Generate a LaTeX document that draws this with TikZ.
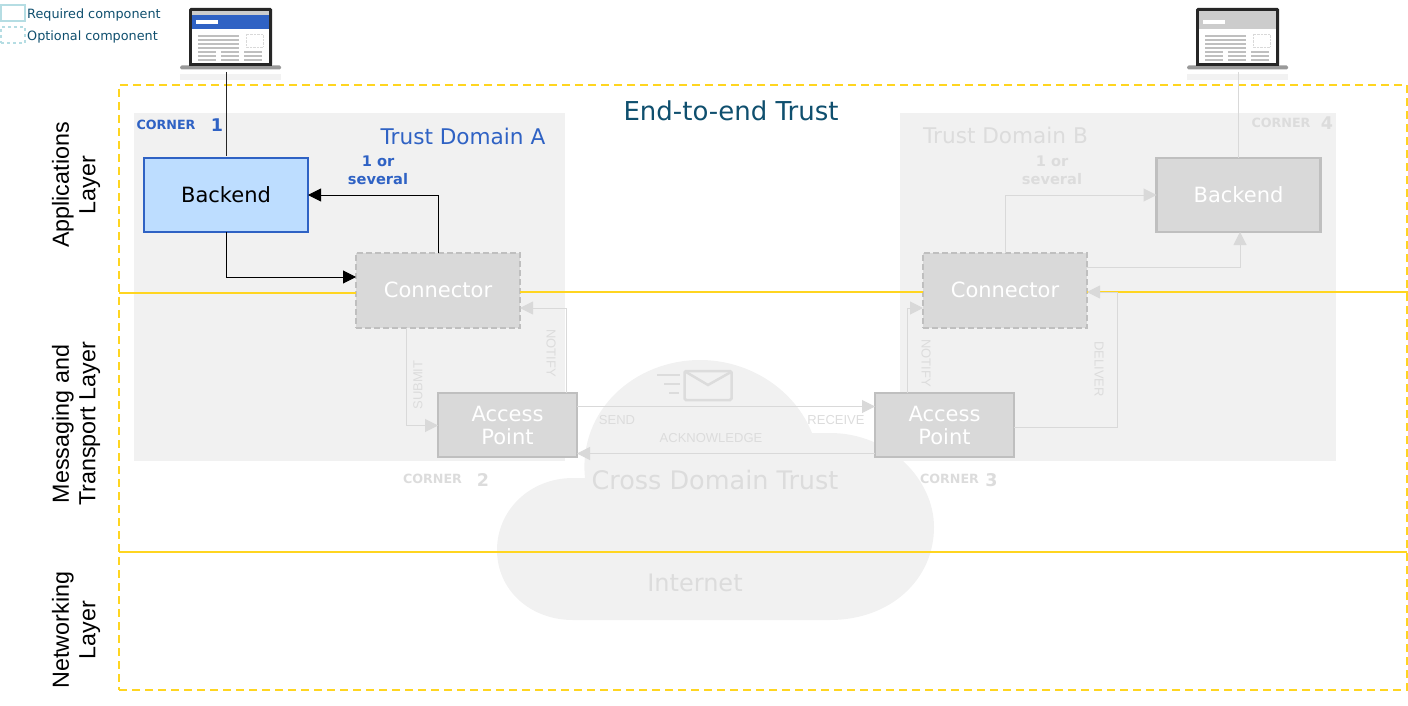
\documentclass[tikz,border=0pt]{standalone}
\usepackage{fontspec}
\setmainfont{DejaVu Sans}
\newfontfamily\arialfont{Liberation Sans}
\usetikzlibrary{arrows.meta}
\definecolor{trustyellow}{HTML}{FFD520}
\definecolor{domaingrey}{HTML}{F1F1F1}
\definecolor{boxgrey}{HTML}{D9D9D9}
\definecolor{edgegrey}{HTML}{BFBFBF}
\definecolor{fadegrey}{HTML}{DCDCDC}
\definecolor{cornerblue}{HTML}{2F62C4}
\definecolor{backendblue}{HTML}{BDDDFF}
\definecolor{tealtext}{HTML}{0F4F6E}
\definecolor{legendteal}{HTML}{B5DDE3}
\newcommand{\fsize}[1]{\fontsize{#1}{#1}\selectfont}
\tikzset{
  domainbox/.style={fill=domaingrey,minimum height=348pt,inner sep=0pt,outer sep=0pt},
  compbox/.style={draw=edgegrey,line width=2.2pt,fill=boxgrey,text=white,inner sep=0pt,outer sep=0pt,
    align=center,font=\fontsize{21}{23}\selectfont},
  backend/.style={compbox,minimum width=164pt,minimum height=74pt},
  connector/.style={compbox,dash pattern=on 6pt off 3pt,minimum width=164pt,minimum height=75pt},
  accesspt/.style={compbox,minimum width=139pt,minimum height=64pt},
  legendbox/.style={draw=legendteal,line width=2pt,minimum width=24pt,minimum height=16pt,inner sep=0pt},
  legendtext/.style={text=tealtext,anchor=west,inner sep=0pt,font=\fsize{12.8}},
  cornertext/.style={font=\bfseries\fsize{12.7},inner sep=0pt},
  cornernum/.style={font=\bfseries\fsize{17.5},inner sep=0pt},
  severaltext/.style={font=\bfseries\fontsize{14.6}{18}\selectfont,align=center,inner sep=0pt},
  flowtext/.style={font=\arialfont\fsize{13},text=fadegrey,inner sep=0pt},
  layertext/.style={font=\arialfont\fontsize{23.3}{26.5}\selectfont,align=center,rotate=90,inner sep=0pt},
  yline/.style={draw=trustyellow,line width=2pt},
  link/.style={-{Triangle[length=13pt,width=13pt]},line width=1pt,draw=black},
  fadelink/.style={link,draw=boxgrey,line width=1pt},
}
% x1 y1 is the top left of the screen, #3 the header colour
\newcommand{\laptopicon}[3]{
  \begin{scope}[shift={(#1,#2)}]
    \fill[black!5] (-9,66) rectangle (92,72);
    \fill[black!85,rounded corners=1.5pt] (0,0) rectangle (83,58);
    \fill[white] (3,3) rectangle (80,55);
    \fill[black!20] (3,3) rectangle (80,7);
    \fill[#3] (3,7) rectangle (80,21);
    \fill[white] (7,12) rectangle (29,16);
    \foreach \ly in {28,32,36,40} \draw[black!25,line width=1.2pt] (9,\ly) -- (50,\ly);
    \draw[black!15,densely dotted] (57,26) rectangle (74,39);
    \foreach \lx in {9,32,55} \foreach \ly in {44,48,52} \draw[black!25,line width=1.2pt] (\lx,\ly) -- (\lx+18,\ly);
    \fill[black!40,rounded corners=1.5pt] (-9,57.5) rectangle (92,61.5);
    \fill[black!85] (0,55) rectangle (83,58.5);
  \end{scope}
}
\begin{document}
\begin{tikzpicture}[x=1pt,y=-1pt]
\useasboundingbox (0,0) rectangle (1408,706);
\node[domainbox,minimum width=431pt] (DomainA) at (349.5,287) {};
\node[domainbox,minimum width=436pt] (DomainB) at (1118,287) {};

%cloud behind the access points
\fill[domaingrey] (573,620) .. controls (530,620) and (497,590) .. (497,550)
  .. controls (497,510) and (530,478) .. (573,478) -- (585,478)
  .. controls (578,410) and (635,360) .. (700,360)
  .. controls (750,360) and (795,390) .. (812,433) -- (830,433)
  .. controls (890,433) and (934,480) .. (934,527)
  .. controls (934,580) and (890,620) .. (830,620) -- cycle;
\draw[fadegrey,line width=2.5pt,rounded corners=1.5pt] (684.5,371) rectangle (731.5,400);
\draw[fadegrey,line width=2.5pt] (686,372) -- (708,385) -- (731,372);
\draw[fadegrey,line width=2pt] (657,374.5) -- (680,374.5) (664,384) -- (680,384) (669,392.5) -- (679,392.5);

\node[draw=trustyellow,line width=2.2pt,dash pattern=on 8pt off 5pt,minimum width=1288pt,minimum height=605pt,inner sep=0pt,outer sep=0pt] (Frame) at (763,387.5) {};
\node[backend,draw=cornerblue,fill=backendblue,text=black] (BackendA) at (226,195) {Backend};
\node[backend] (BackendB) [right of=BackendA,node distance=1012.5pt] {Backend};
\node[connector] (ConnA) at (438,290.5) {\raisebox{1.5pt}{Connector}};
\node[connector] (ConnB) [right of=ConnA,node distance=567pt] {\raisebox{1.5pt}{Connector}};
\node[accesspt] (APA) at (507.5,425) {Access\\Point};
\node[accesspt] (APB) [right of=APA,node distance=437pt] {Access\\Point};

\coordinate (YellowA) at (119,293);
\coordinate (YellowB) at (1408,292);
\coordinate (YellowC) at (119,552);
\coordinate (YellowD) at (1407,552);
\path[yline] (YellowA) -- (ConnA.west |- YellowA);
\path[yline] (ConnA.east |- YellowB) -- (ConnB.west |- YellowB);
\path[yline] (ConnB.east |- YellowB) -- (YellowB);
\path[yline] (YellowC) -- (YellowD);

\laptopicon{189}{8}{cornerblue}
\laptopicon{1196}{8}{black!20}
\node[minimum width=101pt,minimum height=64pt,inner sep=0pt,outer sep=0pt] (LaptopA) at (230.5,40) {};
\node[minimum width=101pt,minimum height=64pt,inner sep=0pt,outer sep=0pt] (LaptopB) at (1237.5,40) {};

\draw[line width=1pt,black!85] (BackendA.north |- LaptopA.south) -- ([yshift=2pt]BackendA.north);
\draw[line width=1pt,draw=boxgrey] (BackendB.north |- LaptopB.south) -- (BackendB.north);
\draw[link] (BackendA.south) |- ([yshift=13.5pt]ConnA.west);
\draw[link] (ConnA.north) |- (BackendA.east);
\draw[fadelink] ([xshift=-32pt]ConnA.south) |- ([yshift=-0.5pt]APA.west);
\draw[fadelink] ([xshift=59pt]APA.north) |- ([yshift=-17.5pt]ConnA.east);
\draw[fadelink] ([yshift=18.5pt]APA.east) -- ([yshift=18.5pt]APB.west);
\draw[fadelink] ([yshift=-28.5pt]APB.west) -- ([yshift=-28.5pt]APA.east);
\draw[fadelink] ([xshift=-37.5pt]APB.north) |- ([yshift=-17.5pt]ConnB.west);
\draw[fadelink] ([yshift=-2pt]APB.east) -| ++(103,0) |- ([yshift=-1.5pt]ConnB.east);
\draw[fadelink] (ConnB.north) |- (BackendB.west);
\draw[fadelink] ([yshift=23.5pt]ConnB.east) -| ([xshift=1.5pt]BackendB.south);

\node[legendbox] (ReqBox) at (13,13) {};
\node[legendbox,dashed] (OptBox) at (13,35) {};
\node[legendtext] (ReqText) at (27,14.5) {Required component};
\node[legendtext] (OptText) at (27,36.5) {Optional component};

\node[text=tealtext,font=\fsize{26},inner sep=0pt] (EndTrust) at (731,111) {End-to-end Trust};
\node[text=cornerblue,font=\fsize{21.6},inner sep=0pt] (TitleA) at (463,136.5) {Trust Domain A};
\node[text=fadegrey,font=\fsize{21.6},inner sep=0pt] (TitleB) at (1005.5,135.5) {Trust Domain B};
\node[text=fadegrey,font=\fsize{25.5},inner sep=0pt] (CrossTrust) at (715,480) {Cross Domain Trust};
\node[text=fadegrey,font=\fsize{24},inner sep=0pt] (Internet) at (695,583) {Internet};

\node[cornertext,text=cornerblue] (CornerA) at (166,124.5) {CORNER};
\node[cornernum,text=cornerblue] (NumA) at (217,125) {1};
\node[cornertext,text=fadegrey] (CornerB) at (432.5,478.5) {CORNER};
\node[cornernum,text=fadegrey] (NumB) at (483,480) {2};
\node[cornertext,text=fadegrey] (CornerC) at (949.5,478.5) {CORNER};
\node[cornernum,text=fadegrey] (NumC) at (991.5,480) {3};
\node[cornertext,text=fadegrey] (CornerD) at (1281,122.5) {CORNER};
\node[cornernum,text=fadegrey] (NumD) at (1327,123) {4};

\node[severaltext,text=cornerblue] (SeveralA) at (378,170) {1 or\\several};
\node[severaltext,text=fadegrey] (SeveralB) at (1052,170) {1 or\\several};

\node[flowtext,rotate=90] (SubmitLbl) at (418,385) {SUBMIT};
\node[flowtext,rotate=-90] (NotifyLblA) at (551,353) {NOTIFY};
\node[flowtext,rotate=-90] (NotifyLblB) at (926,363) {NOTIFY};
\node[flowtext,rotate=-90] (DeliverLbl) at (1099,369) {DELIVER};
\node[flowtext] (SendLbl) at (617,420.5) {SEND};
\node[flowtext] (ReceiveLbl) at (836,420.5) {RECEIVE};
\node[flowtext] (AckLbl) at (711,438.5) {ACKNOWLEDGE};

\node[layertext] (AppLayer) at (76,185) {Applications\\Layer};
\node[layertext] (MsgLayer) at (76,424) {Messaging and\\Transport Layer};
\node[layertext] (NetLayer) at (76,630) {Networking\\Layer};
\end{tikzpicture}
\end{document}
